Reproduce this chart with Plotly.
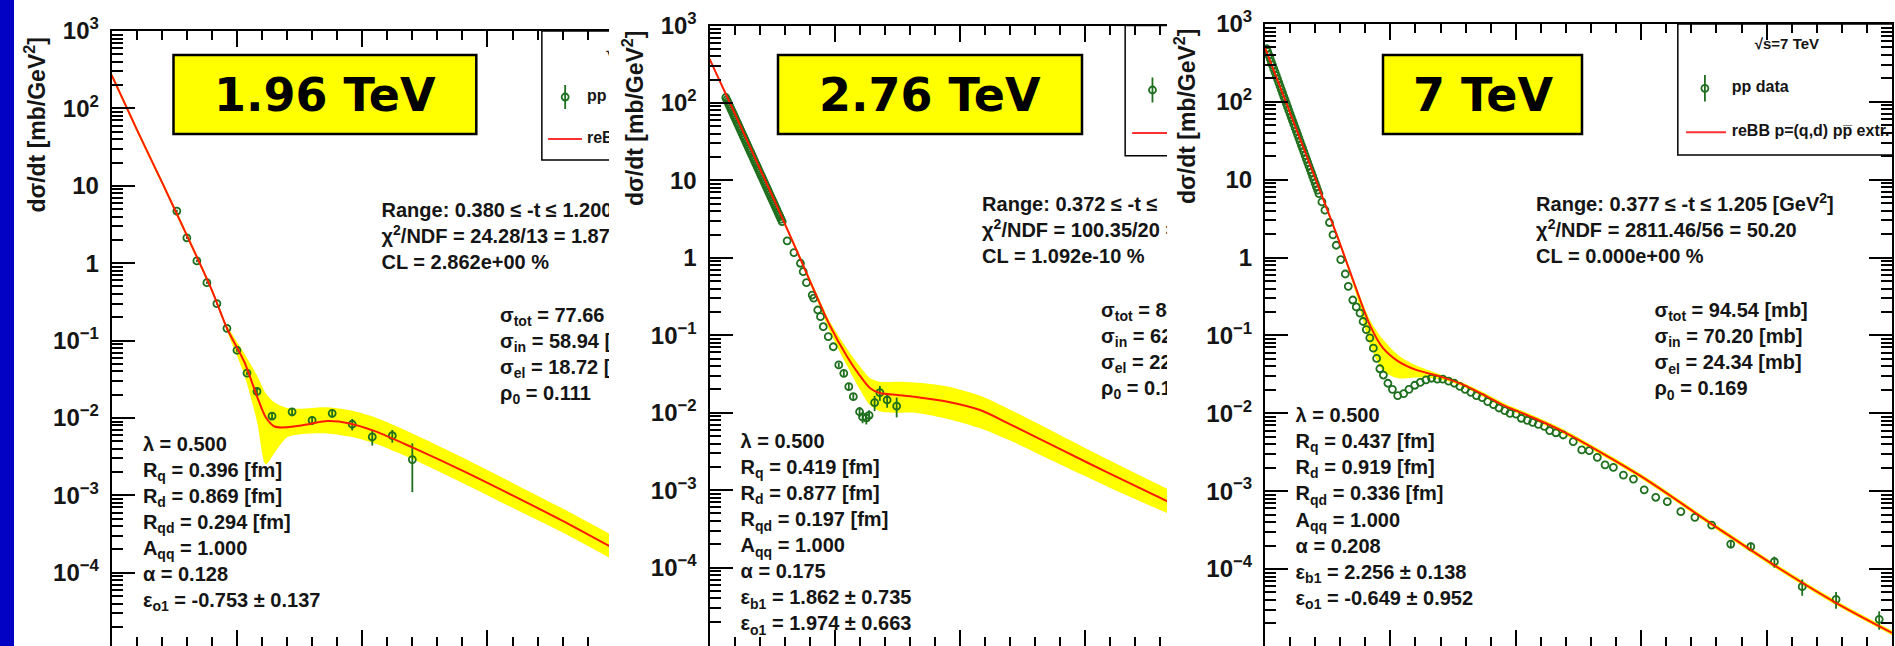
import plotly.graph_objects as go

W, H = 1895, 646

# ---------------- tick labels / texts ----------------
y_tick_vals = [1e-4, 1e-3, 1e-2, 1e-1, 1, 10, 100, 1000]
y_tick_text = ["10<sup>−4</sup>", "10<sup>−3</sup>", "10<sup>−2</sup>", "10<sup>−1</sup>",
               "1", "10", "10<sup>2</sup>", "10<sup>3</sup>"]
y_label = "dσ/dt [mb/GeV<sup>2</sup>]"

panel_titles = ["1.96 TeV", "2.76 TeV", "7 TeV"]
legend_headers = ["√s=1.96 TeV", "√s=2.76 TeV", "√s=7 TeV"]
legend_labels = ["pp data", "reBB p=(q,d) pp̅ extr."]

# ---------------- 1.96 TeV ----------------
d196_t = [0.26, 0.30, 0.34, 0.38, 0.42, 0.46, 0.50, 0.54, 0.58, 0.64, 0.72, 0.80, 0.88, 0.96, 1.04, 1.12, 1.20]
d196_y = [4.72, 2.13, 1.07, 0.56, 0.30, 0.144, 0.075, 0.038, 0.022, 0.0106, 0.0120, 0.0093, 0.0115,
          0.0083, 0.0057, 0.0059, 0.0029]
d196_err = [0.2, 0.08, 0.04, 0.02, 0.01, 0.005, 0.003, 0.002, 0.002, 0.0012, 0.0015, 0.0012, 0.0014,
            0.0014, 0.0013, 0.0011, 0.0018]
m196_t = [0, 0.1, 0.2, 0.3, 0.4, 0.46, 0.53, 0.58, 0.615, 0.65, 0.7, 0.75, 0.8, 0.86, 0.95, 1.05, 1.2,
          1.4, 1.6, 1.8, 2.0]
m196_y = [269.2, 53.7, 11.22, 2.291, 0.4467, 0.1445, 0.05248, 0.01905, 0.01023, 0.00776, 0.00759,
          0.00794, 0.00851, 0.00912, 0.00851, 0.00676, 0.00417, 0.00209, 0.00100, 0.000468, 0.000209]
m196_lo = [251.2, 50.1, 10.47, 2.138, 0.417, 0.1318, 0.03548, 0.00891, 0.00251, 0.00355, 0.00562,
           0.00617, 0.00631, 0.00631, 0.00575, 0.00468, 0.00295, 0.00145, 0.000692, 0.000331, 0.000148]
m196_hi = [288.4, 57.5, 12.02, 2.455, 0.4786, 0.1585, 0.06761, 0.03548, 0.02089, 0.01585, 0.01349,
           0.01318, 0.01349, 0.01380, 0.01259, 0.01023, 0.00631, 0.00309, 0.00145, 0.000676, 0.000302]
fit196 = ["Range: 0.380 ≤ -t ≤ 1.200 [GeV<sup>2</sup>]", "χ<sup>2</sup>/NDF = 24.28/13 = 1.87",
          "CL = 2.862e+00 %"]
xs196 = ["σ<sub>tot</sub> = 77.66 [mb]", "σ<sub>in</sub> = 58.94 [mb]", "σ<sub>el</sub> = 18.72 [mb]",
         "ρ<sub>0</sub> = 0.111"]
par196 = ["λ = 0.500", "R<sub>q</sub> = 0.396 [fm]", "R<sub>d</sub> = 0.869 [fm]",
          "R<sub>qd</sub> = 0.294 [fm]", "A<sub>qq</sub> = 1.000", "α = 0.128",
          "ε<sub>o1</sub> = -0.753 ± 0.137"]

# ---------------- 2.76 TeV ----------------
d276_t = [0.065, 0.069, 0.073, 0.077, 0.081, 0.085, 0.089, 0.093, 0.097, 0.101, 0.105, 0.109, 0.113,
          0.117, 0.121, 0.125, 0.129, 0.133, 0.137, 0.141, 0.145, 0.149, 0.153, 0.157, 0.161, 0.165,
          0.169, 0.173, 0.177, 0.181, 0.185, 0.189, 0.193, 0.197, 0.201, 0.205, 0.209, 0.213, 0.217,
          0.221, 0.225, 0.229, 0.233, 0.237, 0.241, 0.245, 0.249, 0.253, 0.257, 0.261, 0.265, 0.269,
          0.273, 0.277, 0.281, 0.2855,
          0.290, 0.310, 0.337, 0.363, 0.374, 0.387, 0.410, 0.416, 0.432, 0.443, 0.454,
          0.474, 0.494, 0.516, 0.536, 0.556, 0.574, 0.599, 0.611, 0.626, 0.637, 0.659, 0.680, 0.709, 0.747]
d276_y = [117.5, 110.0, 103, 96.5, 90.4, 84.7, 79.3, 74.2, 69.5, 65.1, 61.0, 57.1, 53.5,
          50.1, 46.9, 43.9, 41.1, 38.5, 36.1, 33.8, 31.6, 29.6, 27.7, 25.9, 24.3, 22.8,
          21.3, 20.0, 18.7, 17.5, 16.4, 15.4, 14.4, 13.5, 12.6, 11.8, 11.1, 10.4, 9.73,
          9.11, 8.53, 7.99, 7.48, 7.00, 6.56, 6.14, 5.75, 5.39, 5.05, 4.73, 4.43, 4.15,
          3.88, 3.63, 3.40, 3.16,
          2.93, 1.66, 1.17, 0.851, 0.662, 0.478, 0.331, 0.301, 0.212, 0.174, 0.129,
          0.0959, 0.0711, 0.0414, 0.0323, 0.0217, 0.0161, 0.0103, 0.00881, 0.00855, 0.00927, 0.0135,
          0.0182, 0.0146, 0.0122]
d276_err = [0] * 69 + [0.003, 0.003, 0.002, 0.0015, 0.0015, 0.0015, 0.0015, 0.0015, 0.003, 0.004,
                       0.003, 0.0035]
m276_t = [0, 0.1, 0.2, 0.28, 0.35, 0.42, 0.48, 0.55, 0.6, 0.64, 0.68, 0.75, 0.82, 0.95, 1.08, 1.2, 1.4,
          1.6, 1.85]
m276_y = [371.5, 74.1, 14.45, 3.89, 1.202, 0.3631, 0.1349, 0.05248, 0.0302, 0.02089, 0.01799, 0.01698,
          0.01603, 0.0139, 0.01084, 0.00708, 0.00339, 0.00162, 0.000661]
m276_lo = [354.8, 70.8, 13.8, 3.715, 1.122, 0.3311, 0.1122, 0.03981, 0.01995, 0.01259, 0.01047, 0.0100,
           0.0100, 0.00832, 0.00631, 0.00437, 0.00214, 0.00107, 0.000468]
m276_hi = [389.0, 77.6, 15.14, 4.074, 1.288, 0.3981, 0.1514, 0.06607, 0.03981, 0.02818, 0.02512, 0.02512,
           0.02455, 0.02188, 0.0166, 0.01096, 0.00513, 0.0024, 0.000955]
fit276 = ["Range: 0.372 ≤ -t ≤", "χ<sup>2</sup>/NDF = 100.35/20 =", "CL = 1.092e-10 %"]
xs276 = ["σ<sub>tot</sub> = 84", "σ<sub>in</sub> = 62", "σ<sub>el</sub> = 22", "ρ<sub>0</sub> = 0.1"]
par276 = ["λ = 0.500", "R<sub>q</sub> = 0.419 [fm]", "R<sub>d</sub> = 0.877 [fm]",
          "R<sub>qd</sub> = 0.197 [fm]", "A<sub>qq</sub> = 1.000", "α = 0.175",
          "ε<sub>b1</sub> = 1.862 ± 0.735", "ε<sub>o1</sub> = 1.974 ± 0.663"]

# ---------------- 7 TeV ----------------
d7_t = [0.006, 0.0105, 0.015, 0.020, 0.025, 0.030, 0.035, 0.040, 0.045, 0.050, 0.055, 0.060, 0.065,
        0.070, 0.075, 0.080, 0.085, 0.090, 0.095, 0.100, 0.105, 0.110, 0.115, 0.120, 0.125, 0.130,
        0.135, 0.140, 0.145, 0.150, 0.155, 0.160, 0.165, 0.170, 0.175, 0.180, 0.185, 0.190, 0.195,
        0.200, 0.205, 0.210, 0.215, 0.227,
        0.239, 0.257, 0.271, 0.284, 0.302, 0.320, 0.332, 0.350, 0.364, 0.379, 0.391, 0.404, 0.418,
        0.432, 0.445, 0.458, 0.472, 0.490, 0.508, 0.529, 0.553, 0.574, 0.597, 0.619, 0.642, 0.664,
        0.687, 0.709, 0.732, 0.755, 0.777, 0.798, 0.821, 0.843, 0.866, 0.888, 0.911, 0.933, 0.956,
        0.977, 1.001, 1.022, 1.046, 1.067, 1.090, 1.114, 1.135, 1.160,
        1.189, 1.229, 1.263, 1.293, 1.325, 1.356, 1.389, 1.429, 1.469, 1.512, 1.558, 1.604, 1.658,
        1.714, 1.781, 1.857, 1.937, 2.031, 2.142, 2.277, 2.449]
d7_y = [483, 440.6, 402, 362.6, 327, 295.5, 267, 240.7, 217, 196.0, 177, 159.6, 144,
        129.8, 117, 105.7, 95.5, 86.2, 77.8, 70.2, 63.4, 57.2, 51.6, 46.6, 42.1, 38.0,
        34.3, 30.9, 27.9, 25.2, 22.8, 20.5, 18.5, 16.7, 15.1, 13.6, 12.3, 11.1, 10.0,
        9.03, 8.15, 7.36, 6.64, 5.19,
        4.06, 2.82, 1.96, 1.44, 0.942, 0.615, 0.427, 0.285, 0.232, 0.193, 0.151, 0.119, 0.0929,
        0.0686, 0.0506, 0.0373, 0.0310, 0.0243, 0.0203, 0.0169, 0.0179, 0.0203, 0.0229, 0.0249,
        0.0269, 0.0282, 0.0275, 0.0275, 0.0259, 0.0243, 0.0221, 0.0203, 0.0186, 0.0169, 0.0159,
        0.0141, 0.0129, 0.0117, 0.0108, 0.0100, 0.00975, 0.00863, 0.00813, 0.00766, 0.00719,
        0.00678, 0.00600, 0.00562,
        0.00526, 0.00432, 0.00338, 0.00331, 0.00272, 0.00217, 0.00202, 0.00161, 0.00143, 0.00104,
        0.000834, 0.000733, 0.000545, 0.000461, 0.000367, 0.000209, 0.000194, 0.000124, 5.93e-5,
        4.08e-5, 2.26e-5]
d7_err = [0] * 107 + [2.5e-5, 2.5e-5, 2e-5, 1.4e-5, 1e-5, 6e-6]
m7_t = [0, 0.1, 0.2, 0.29, 0.36, 0.42, 0.47, 0.53, 0.6, 0.69, 0.78, 0.87, 0.96, 1.05, 1.18, 1.5, 1.78,
        2.03, 2.28, 2.5]
m7_y = [495.5, 72.4, 10.47, 1.820, 0.4266, 0.1318, 0.06918, 0.04677, 0.03631, 0.0302, 0.02399, 0.01738,
        0.0123, 0.00933, 0.00603, 0.001549, 0.000380, 0.0001122, 3.63e-5, 1.514e-5]
m7_lo = [462.4, 67.6, 9.77, 1.698, 0.3631, 0.0741, 0.03548, 0.02818, 0.02884, 0.02754, 0.02265, 0.01622,
         0.01148, 0.00871, 0.00562, 0.001445, 0.000355, 0.0001047, 3.39e-5, 1.413e-5]
m7_hi = [530.9, 77.6, 11.22, 1.950, 0.4571, 0.1549, 0.08913, 0.05623, 0.04169, 0.03236, 0.02541, 0.01862,
         0.01318, 0.0100, 0.00646, 0.00166, 0.000407, 0.0001202, 3.89e-5, 1.622e-5]
fit7 = ["Range: 0.377 ≤ -t ≤ 1.205 [GeV<sup>2</sup>]", "χ<sup>2</sup>/NDF = 2811.46/56 = 50.20",
        "CL = 0.000e+00 %"]
xs7 = ["σ<sub>tot</sub> = 94.54 [mb]", "σ<sub>in</sub> = 70.20 [mb]", "σ<sub>el</sub> = 24.34 [mb]",
       "ρ<sub>0</sub> = 0.169"]
par7 = ["λ = 0.500", "R<sub>q</sub> = 0.437 [fm]", "R<sub>d</sub> = 0.919 [fm]",
        "R<sub>qd</sub> = 0.336 [fm]", "A<sub>qq</sub> = 1.000", "α = 0.208",
        "ε<sub>b1</sub> = 2.256 ± 0.138", "ε<sub>o1</sub> = -0.649 ± 0.952"]

# ---------------- styling / layout geometry (pixels & axis units) ----------------
YELLOW = "#ffff00"
RED = "#ff1a00"
GREEN = "#1e6f1e"
TXT = "#151515"
FONT = "Liberation Sans, Arial, sans-serif"

panels = [
    dict(data=(d196_t, d196_y, d196_err), model=(m196_t, m196_y, m196_lo, m196_hi),
         texts=(fit196, xs196, par196), title=panel_titles[0], header=legend_headers[0],
         px=(111.7, 609.0), top=31.0, yr=(-4.946, 3.0), xr=(0, 1.985), mirror_y=False,
         fit_pos=(1.077, 0.661), xs_pos=(1.550, -0.695), par_pos=(0.1245, -2.359),
         leg=dict(x0=1.717, y0=1.333, mk=(1.810, 2.147, 0.155), ln=(1.742, 1.877, 1.605),
                  tx=1.897, hd=(2.144, 2.716)),
         box=(173.5, 476.3), ylab=(35, 125.6)),
    dict(data=(d276_t, d276_y, d276_err), model=(m276_t, m276_y, m276_lo, m276_hi),
         texts=(fit276, xs276, par276), title=panel_titles[1], header=legend_headers[1],
         px=(709.5, 1167.0), top=25.5, yr=(-5.012, 3.0), xr=(0, 1.826), mirror_y=False,
         fit_pos=(1.088, 0.669), xs_pos=(1.563, -0.699), par_pos=(0.124, -2.394),
         leg=dict(x0=1.659, y0=1.319, mk=(1.768, 2.167, 0.16), ln=(1.687, 1.846, 1.612),
                  tx=1.87, hd=(2.086, 2.72)),
         box=(778.0, 1082.0), ylab=(633, 119)),
    dict(data=(d7_t, d7_y, d7_err), model=(m7_t, m7_y, m7_lo, m7_hi),
         texts=(fit7, xs7, par7), title=panel_titles[2], header=legend_headers[2],
         px=(1265.0, 1892.0), top=24.0, yr=(-4.989, 3.0), xr=(0, 2.5), mirror_y="ticks",
         fit_pos=(1.081, 0.662), xs_pos=(1.553, -0.699), par_pos=(0.122, -2.047),
         leg=dict(x0=1.646, y0=1.318, mk=(1.754, 2.174, 0.171), ln=(1.679, 1.838, 1.609),
                  tx=1.861, hd=(2.081, 2.721)),
         box=(1383.0, 1582.0), ylab=(1185, 117)),
]

LINE_STEP = 0.336   # vertical spacing of text lines, in decades

minor_vals = [m * 10.0 ** k for k in range(-6, 4) for m in range(2, 10)]

fig = go.Figure()
shapes = []
annotations = []

# blue slide strip on the left
shapes.append(dict(type="rect", xref="paper", yref="paper", x0=0, x1=14 / W, y0=0, y1=1,
                   fillcolor="#0202c4", line=dict(width=0), layer="above"))

for i, P in enumerate(panels):
    n = "" if i == 0 else str(i + 1)
    xa, ya = "x" + n, "y" + n
    dt, dy, de = P["data"]
    mt, my, mlo, mhi = P["model"]
    xmax = P["xr"][1]

    # uncertainty band
    fig.add_trace(go.Scatter(x=mt, y=mlo, mode="lines", xaxis=xa, yaxis=ya, hoverinfo="skip",
                             line=dict(width=0, color=YELLOW, shape="spline", smoothing=0.8)))
    fig.add_trace(go.Scatter(x=mt, y=mhi, mode="lines", xaxis=xa, yaxis=ya, hoverinfo="skip",
                             fill="tonexty", fillcolor=YELLOW,
                             line=dict(width=0, color=YELLOW, shape="spline", smoothing=0.8)))
    # data
    fig.add_trace(go.Scatter(x=dt, y=dy, mode="markers", xaxis=xa, yaxis=ya,
                             marker=dict(symbol="circle-open", size=7, color=GREEN,
                                         line=dict(width=1.8, color=GREEN)),
                             error_y=dict(type="data", array=de, visible=True, thickness=1.8,
                                          width=0, color=GREEN)))
    # model curve
    fig.add_trace(go.Scatter(x=mt, y=my, mode="lines", xaxis=xa, yaxis=ya,
                             line=dict(width=2, color=RED, shape="spline", smoothing=0.8)))

    # ----- legend box (clipped by the subplot) -----
    L = P["leg"]
    shapes.append(dict(type="rect", xref=xa, yref=ya, x0=L["x0"], x1=2.7,
                       y0=10 ** L["y0"], y1=1000.0,
                       line=dict(color="black", width=1.5), fillcolor="white", layer="below"))
    mx, me, merr = L["mk"]
    fig.add_trace(go.Scatter(x=[mx], y=[10 ** me], mode="markers", xaxis=xa, yaxis=ya,
                             marker=dict(symbol="circle-open", size=7, color=GREEN,
                                         line=dict(width=1.8, color=GREEN)),
                             error_y=dict(type="data", array=[10 ** (me + merr) - 10 ** me],
                                          arrayminus=[10 ** me - 10 ** (me - merr)], visible=True,
                                          thickness=1.8, width=0, color=GREEN)))
    l0, l1, le = L["ln"]
    fig.add_trace(go.Scatter(x=[l0, l1], y=[10 ** le, 10 ** le], mode="lines", xaxis=xa, yaxis=ya,
                             line=dict(width=2, color="#ff3030")))
    # legend texts only where some part of them falls inside the (cropped) panel
    if L["tx"] < xmax:
        fig.add_trace(go.Scatter(x=[L["tx"], L["tx"]], y=[10 ** me, 10 ** le], mode="text",
                                 text=["<b>" + s + "</b>" for s in legend_labels],
                                 textposition="middle right", xaxis=xa, yaxis=ya,
                                 textfont=dict(family=FONT, size=16, color=TXT)))
    if L["hd"][0] - 0.2 < xmax:
        fig.add_trace(go.Scatter(x=[L["hd"][0]], y=[10 ** L["hd"][1]], mode="text",
                                 text=["<b>" + P["header"] + "</b>"],
                                 textposition="middle center", xaxis=xa, yaxis=ya,
                                 textfont=dict(family=FONT, size=15, color=TXT)))

    # ----- statistics text blocks (clipped by the subplot) -----
    for lines, (tx, te) in zip(P["texts"], (P["fit_pos"], P["xs_pos"], P["par_pos"])):
        fig.add_trace(go.Scatter(x=[tx] * len(lines),
                                 y=[10 ** (te - k * LINE_STEP) for k in range(len(lines))],
                                 mode="text", text=["<b>" + s + "</b>" for s in lines],
                                 textposition="middle right", xaxis=xa, yaxis=ya,
                                 textfont=dict(family=FONT, size=20, color=TXT)))

    # ----- axes -----
    x0px, x1px = P["px"]
    dom_x = [x0px / W, x1px / W]
    dom_y = [0, 1 - P["top"] / H]
    fig.layout["xaxis" + n] = dict(
        domain=dom_x, anchor=ya, range=list(P["xr"]), automargin=False,
        showline=True, linecolor="black", linewidth=2,
        mirror="ticks", ticks="inside", ticklen=16, tickwidth=1.5, tickcolor="black",
        showticklabels=False, showgrid=False, zeroline=False, tick0=0, dtick=0.5,
        minor=dict(ticks="inside", ticklen=9, tickwidth=1.5, tickcolor="black", tick0=0, dtick=0.1,
                   showgrid=False))
    fig.layout["yaxis" + n] = dict(
        domain=dom_y, anchor=xa, type="log", range=list(P["yr"]), automargin=False,
        showline=True, linecolor="black",
        linewidth=2, mirror=P["mirror_y"], ticks="inside", ticklen=23, tickwidth=1.5,
        tickcolor="black", tickmode="array", tickvals=y_tick_vals,
        ticktext=["<b>" + s + "</b>" for s in y_tick_text],
        tickfont=dict(family=FONT, size=24, color=TXT), ticklabelstandoff=6,
        showgrid=False, zeroline=False,
        minor=dict(ticks="inside", ticklen=11, tickwidth=1.5, tickcolor="black", tickmode="array",
                   tickvals=minor_vals, showgrid=False))

    # ----- title box -----
    bx0, bx1 = P["box"]
    shapes.append(dict(type="rect", xref="paper", yref="paper", x0=bx0 / W, x1=bx1 / W,
                       y0=1 - 134 / H, y1=1 - 55 / H, fillcolor=YELLOW,
                       line=dict(color="black", width=2.5), layer="above"))
    annotations.append(dict(xref="paper", yref="paper", x=(bx0 + bx1) / 2 / W, y=1 - 95 / H,
                            text="<b>" + P["title"] + "</b>", showarrow=False, xanchor="center",
                            yanchor="middle", font=dict(family="DejaVu Sans", size=46, color="black")))
    # ----- y label -----
    annotations.append(dict(xref="paper", yref="paper", x=P["ylab"][0] / W, y=1 - P["ylab"][1] / H,
                            text="<b>" + y_label + "</b>", textangle=-90, showarrow=False,
                            xanchor="center", yanchor="middle",
                            font=dict(family=FONT, size=23, color=TXT)))

fig.update_layout(width=W, height=H, margin=dict(l=0, r=0, t=0, b=0, autoexpand=False),
                  showlegend=False, paper_bgcolor="white", plot_bgcolor="white", shapes=shapes,
                  annotations=annotations)

fig.write_html("out.html")
